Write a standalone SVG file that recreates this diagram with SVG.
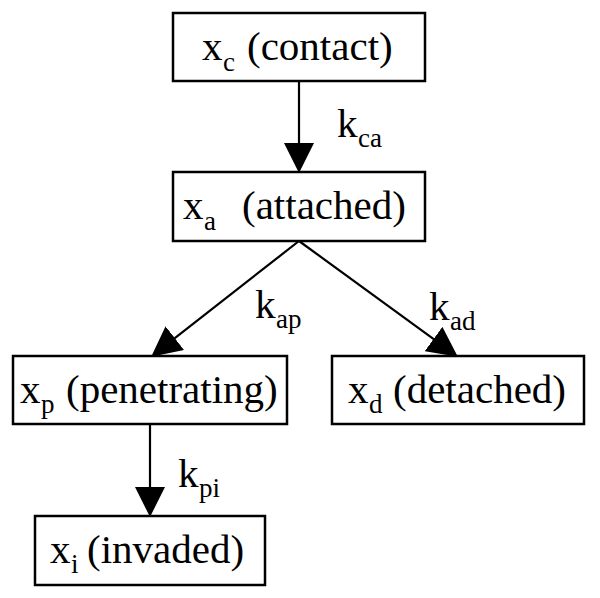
<svg xmlns="http://www.w3.org/2000/svg" width="600" height="598" viewBox="0 0 600 598">
<style>
.box{fill:#fff;stroke:#000;stroke-width:2.5}
.t{font-family:"Liberation Serif","Times New Roman",serif;font-size:41px;fill:#000}
.s{font-family:"Liberation Serif","Times New Roman",serif;font-size:27px;fill:#000}
.c{stroke:#000;stroke-width:2.2;fill:none}
</style>
<defs>
<marker id="ah" markerUnits="userSpaceOnUse" markerWidth="30" markerHeight="30" refX="14" refY="14" orient="auto" viewBox="0 0 28 28">
<path d="M0,0 L28,14 L0,28 z" fill="#000"/>
</marker>
</defs>
<rect width="600" height="598" fill="#fff"/>
<g id="connectors">
<line class="c" x1="299" y1="81" x2="299" y2="158" marker-end="url(#ah)"/>
<line class="c" x1="299" y1="241" x2="163" y2="347.4" marker-end="url(#ah)"/>
<line class="c" x1="299" y1="241" x2="445.7" y2="347.8" marker-end="url(#ah)"/>
<line class="c" x1="150" y1="424" x2="150" y2="502" marker-end="url(#ah)"/>
<text class="t" x="337" y="137">k</text><text class="s" x="358" y="147">ca</text>
<text class="t" x="255" y="318">k</text><text class="s" x="276" y="328">ap</text>
<text class="t" x="429" y="320">k</text><text class="s" x="450" y="330">ad</text>
<text class="t" x="178" y="487">k</text><text class="s" x="199" y="497">pi</text>
</g>
<g id="node-contact">
<rect class="box" x="173" y="13" width="252" height="68"/>
<text class="t" x="202" y="60">x</text><text class="s" x="223" y="71">c</text><text class="t" x="247" y="60">(contact)</text>
</g>
<g id="node-attached">
<rect class="box" x="173" y="172" width="252" height="69"/>
<text class="t" x="183" y="219">x</text><text class="s" x="204" y="230">a</text><text class="t" x="242" y="219">(attached)</text>
</g>
<g id="node-penetrating">
<rect class="box" x="13" y="356" width="274" height="68"/>
<text class="t" x="20" y="403">x</text><text class="s" x="41" y="413">p</text><text class="t" x="66" y="403">(penetrating)</text>
</g>
<g id="node-detached">
<rect class="box" x="332" y="356" width="252" height="68"/>
<text class="t" x="348" y="403">x</text><text class="s" x="369" y="413">d</text><text class="t" x="393" y="403">(detached)</text>
</g>
<g id="node-invaded">
<rect class="box" x="35" y="516" width="230" height="69"/>
<text class="t" x="50" y="563">x</text><text class="s" x="71" y="573">i</text><text class="t" x="87" y="563">(invaded)</text>
</g>
</svg>
